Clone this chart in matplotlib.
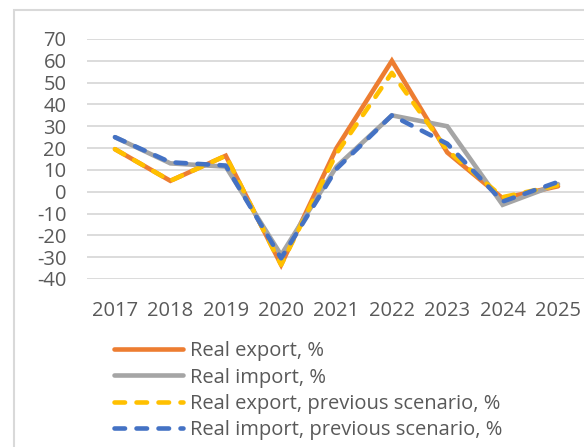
#!/usr/bin/env python3

"""Real export / import growth, actual vs previous scenario"""

import matplotlib
matplotlib.use('Agg')
import matplotlib.pyplot as plt
from matplotlib.patches import Rectangle
import numpy as np

YEARS = ['2017', '2018', '2019', '2020', '2021', '2022', '2023', '2024', '2025']
EXPORT_REAL = [19.5, 5, 16.5, -33.5, 20, 60, 18, -3, 2.5]
IMPORT_REAL = [25, 13, 11.5, -29, 11.5, 35, 30, -6, 3.5]
EXPORT_PREV = [19.5, 5, 16.5, -33.5, 17.5, 54.5, 19, -2.5, 3]
IMPORT_PREV = [25, 13.5, 12, -30.5, 10.5, 35, 22, -4.5, 4.5]
LABELS = ['Real export, %', 'Real import, %',
          'Real export, previous scenario, %', 'Real import, previous scenario, %']

plt.rcParams['font.family'] = ['Open Sans', 'DejaVu Sans']
plt.rcParams['axes.unicode_minus'] = False
W, H = 584, 447
fig = plt.figure(figsize=(W / 100, H / 100), dpi=100)

# chart area border (cut off on the right and bottom, like the source)
fig.patches.append(Rectangle((14 / W, -0.1), 1.2, 1.1 - 10 / H, transform=fig.transFigure,
                             fill=False, edgecolor='#d9d9d9', linewidth=1.5))

ax = fig.add_axes([87.3 / W, 1 - 279 / H, 498.4 / W, 240 / H])
x = np.arange(len(YEARS))
lw = 3.3
ax.plot(x, EXPORT_REAL, color='#ED7D31', lw=lw, solid_capstyle='round', solid_joinstyle='miter',
        label=LABELS[0], clip_on=False)
ax.plot(x, IMPORT_REAL, color='#A5A5A5', lw=lw, solid_capstyle='round', solid_joinstyle='miter',
        label=LABELS[1], clip_on=False)
ax.plot(x, EXPORT_PREV, color='#FFC000', lw=lw, dashes=(2.3, 2.5), dash_capstyle='round',
        label=LABELS[2], clip_on=False)
ax.plot(x, IMPORT_PREV, color='#4472C4', lw=lw, dashes=(2.3, 2.5), dash_capstyle='round',
        label=LABELS[3], clip_on=False)

ax.set_xlim(-0.5, len(YEARS) - 0.5)
ax.set_ylim(-40, 70)
ax.set_yticks(np.arange(-40, 71, 10))
ax.set_xticks(x)
ax.set_xticklabels(YEARS)
ax.grid(axis='y', color='#d9d9d9', linewidth=1.3)
ax.set_axisbelow(True)
for s in ax.spines.values():
    s.set_visible(False)
ax.tick_params(axis='both', length=0, colors='#595959', labelsize=14.5)
ax.tick_params(axis='y', pad=15)
ax.tick_params(axis='x', pad=16)

fig.legend(loc='upper left', bbox_to_anchor=(104 / W, 1 - 331 / H), frameon=False,
           fontsize=14.5, handlelength=3.4, handletextpad=0.35, labelspacing=0.32,
           borderpad=0, labelcolor='#595959')

fig.savefig('out.png', dpi=100)
